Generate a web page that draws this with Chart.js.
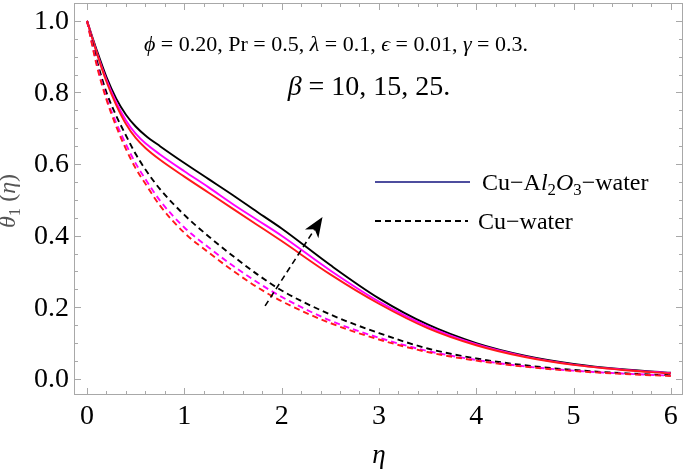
<!DOCTYPE html>
<html lang="en">
<head>
    <meta charset="UTF-8">
    <title>theta1 vs eta</title>
    <script src="https://cdn.jsdelivr.net/npm/chart.js"></script>
    <style>
        html, body { margin: 0; padding: 0; background: #fff; }
        canvas { display: block; }
    </style>
</head>
<body>
    <canvas id="chart" width="685" height="469"></canvas>

    <script>
        const eta = [0, 0.1, 0.2, 0.3, 0.4, 0.5, 0.6, 0.75, 1, 1.25, 1.5, 1.75, 2, 2.5, 3, 3.5, 4, 4.5, 5, 5.5, 6];

        // Cu-Al2O3-water (solid), beta = 10, 15, 25
        const hybridBeta10 = [1.0, 0.910, 0.830, 0.765, 0.712, 0.673, 0.645, 0.612, 0.565, 0.520, 0.475, 0.430, 0.385, 0.292, 0.210, 0.142, 0.094, 0.061, 0.039, 0.025, 0.015];
        const hybridBeta15 = [1.0, 0.912, 0.835, 0.772, 0.722, 0.685, 0.658, 0.627, 0.580, 0.535, 0.488, 0.444, 0.400, 0.303, 0.216, 0.147, 0.097, 0.063, 0.040, 0.026, 0.016];
        const hybridBeta25 = [1.0, 0.918, 0.843, 0.783, 0.738, 0.705, 0.680, 0.650, 0.603, 0.558, 0.513, 0.466, 0.420, 0.318, 0.225, 0.152, 0.100, 0.065, 0.042, 0.027, 0.017];

        // Cu-water (dashed), beta = 10, 15, 25
        const cuBeta10 = [1.0, 0.875, 0.780, 0.705, 0.642, 0.588, 0.545, 0.484, 0.408, 0.353, 0.302, 0.256, 0.217, 0.156, 0.110, 0.075, 0.051, 0.034, 0.022, 0.014, 0.008];
        const cuBeta15 = [1.0, 0.880, 0.785, 0.715, 0.655, 0.602, 0.558, 0.498, 0.423, 0.367, 0.316, 0.270, 0.229, 0.163, 0.115, 0.078, 0.053, 0.035, 0.023, 0.015, 0.009];
        const cuBeta25 = [1.0, 0.890, 0.800, 0.735, 0.680, 0.628, 0.585, 0.530, 0.458, 0.398, 0.343, 0.292, 0.247, 0.180, 0.128, 0.085, 0.057, 0.038, 0.025, 0.016, 0.010];

        // tick labels
        const xTicks = [0, 1, 2, 3, 4, 5, 6];
        const yTicks = [0, 0.2, 0.4, 0.6, 0.8, 1.0];

        // arrow showing increasing beta (data coords: tail -> tip)
        const arrowEta = [1.83, 2.42];
        const arrowTheta = [0.204, 0.452];

        const serif = "'Liberation Serif', 'DejaVu Serif', serif";

        function pts(ys) {
            return eta.map((x, i) => ({ x: x, y: ys[i] }));
        }

        function curve(ys, color, dashed) {
            return {
                data: pts(ys),
                borderColor: color,
                borderWidth: 1.9,
                borderDash: dashed ? [6, 4] : [],
                pointRadius: 0,
                fill: false,
                cubicInterpolationMode: 'monotone'
            };
        }

        // draw a row of text pieces, each piece: [text, italic, sub]
        function drawRuns(ctx, runs, x, y, size, color, align) {
            ctx.save();
            ctx.fillStyle = color;
            ctx.textBaseline = 'alphabetic';
            ctx.textAlign = 'left';
            const fontFor = r => (r[1] ? 'italic ' : '') + (r[2] ? size * 0.7 : size) + 'px ' + serif;
            let total = 0;
            runs.forEach(r => { ctx.font = fontFor(r); total += ctx.measureText(r[0]).width; });
            let cx = align === 'center' ? x - total / 2 : x;
            runs.forEach(r => {
                ctx.font = fontFor(r);
                ctx.fillText(r[0], cx, r[2] ? y + size * 0.22 : y);
                cx += ctx.measureText(r[0]).width;
            });
            ctx.restore();
        }

        const decorPlugin = {
            id: 'decor',
            afterDatasetsDraw(chart) {
                const ctx = chart.ctx;
                const a = chart.chartArea;
                const xs = chart.scales.x, ys = chart.scales.y;

                // frame + inward ticks, mathematica style
                ctx.save();
                ctx.strokeStyle = '#a8a8a8';
                ctx.lineWidth = 1;
                ctx.strokeRect(a.left + 0.5, a.top + 0.5, a.right - a.left - 1, a.bottom - a.top - 1);
                ctx.beginPath();
                for (let i = 0; i <= 30; i++) {
                    const v = i * 0.2;
                    const px = Math.round(xs.getPixelForValue(v)) + 0.5;
                    const len = i % 5 === 0 ? 7 : 4;
                    ctx.moveTo(px, a.bottom); ctx.lineTo(px, a.bottom - len);
                    ctx.moveTo(px, a.top); ctx.lineTo(px, a.top + len);
                }
                for (let i = 0; i <= 21; i++) {
                    const v = i * 0.05;
                    const py = Math.round(ys.getPixelForValue(v)) + 0.5;
                    if (py < a.top || py > a.bottom) continue;
                    const len = i % 4 === 0 ? 7 : 4;
                    ctx.moveTo(a.left, py); ctx.lineTo(a.left + len, py);
                    ctx.moveTo(a.right, py); ctx.lineTo(a.right - len, py);
                }
                ctx.stroke();
                ctx.restore();

                // tick labels, drawn here so the serif face is certain
                ctx.save();
                ctx.fillStyle = '#000';
                ctx.font = '28px ' + serif;
                ctx.textAlign = 'right';
                ctx.textBaseline = 'middle';
                yTicks.forEach(v => ctx.fillText(v.toFixed(1), a.left - 5, ys.getPixelForValue(v) + 1));
                ctx.textAlign = 'center';
                ctx.textBaseline = 'top';
                xTicks.forEach(v => ctx.fillText(String(v), xs.getPixelForValue(v), a.bottom + 8));
                ctx.restore();

                // arrow
                const x0 = xs.getPixelForValue(arrowEta[0]), y0 = ys.getPixelForValue(arrowTheta[0]);
                const x1 = xs.getPixelForValue(arrowEta[1]), y1 = ys.getPixelForValue(arrowTheta[1]);
                const ang = Math.atan2(y1 - y0, x1 - x0);
                const headLen = 20, headW = 8;
                const bx = x1 - Math.cos(ang) * headLen * 0.72, by = y1 - Math.sin(ang) * headLen * 0.72;
                ctx.save();
                ctx.strokeStyle = '#000';
                ctx.lineWidth = 1.6;
                ctx.setLineDash([6, 4]);
                ctx.beginPath();
                ctx.moveTo(x0, y0);
                ctx.lineTo(bx, by);
                ctx.stroke();
                ctx.setLineDash([]);
                ctx.fillStyle = '#000';
                ctx.beginPath();
                const hx = x1 - Math.cos(ang) * headLen, hy = y1 - Math.sin(ang) * headLen;
                ctx.moveTo(x1, y1);
                ctx.lineTo(hx + Math.sin(ang) * headW, hy - Math.cos(ang) * headW);
                ctx.lineTo(bx, by);
                ctx.lineTo(hx - Math.sin(ang) * headW, hy + Math.cos(ang) * headW);
                ctx.closePath();
                ctx.fill();
                ctx.restore();

                // parameter text
                drawRuns(ctx, [
                    ['\u03D5', true], [' = 0.20, Pr = 0.5, '], ['\u03BB', true], [' = 0.1, '],
                    ['\u03F5', true], [' = 0.01, '], ['\u03B3', true], [' = 0.3.']
                ], 336, 51, 22, '#000', 'center');
                drawRuns(ctx, [['\u03B2', true], [' = 10, 15, 25.']], 369, 95, 28, '#000', 'center');

                // legend
                ctx.save();
                ctx.lineWidth = 1.9;
                ctx.strokeStyle = '#4d4d9e';
                ctx.beginPath();
                ctx.moveTo(375, 182); ctx.lineTo(470, 182);
                ctx.stroke();
                ctx.strokeStyle = '#000';
                ctx.setLineDash([6, 4]);
                ctx.beginPath();
                ctx.moveTo(375, 221); ctx.lineTo(468, 221);
                ctx.stroke();
                ctx.restore();
                drawRuns(ctx, [['Cu\u2212A'], ['l', true], ['2', false, true], ['O', true], ['3', false, true], ['\u2212water']],
                    482, 190, 24, '#000', 'left');
                drawRuns(ctx, [['Cu\u2212water']], 478, 229, 24, '#000', 'left');

                // axis titles
                drawRuns(ctx, [['\u03B7', true]], 379, 463, 27, '#000', 'center');
                ctx.save();
                ctx.translate(15, 201);
                ctx.rotate(-Math.PI / 2);
                drawRuns(ctx, [['\u03B8', true], ['1', false, true], [' ('], ['\u03B7', true], [')']], 0, 0, 24, '#555', 'center');
                ctx.restore();
            }
        };

        new Chart(document.getElementById('chart').getContext('2d'), {
            type: 'line',
            data: {
                datasets: [
                    curve(cuBeta10, '#ff1a1a', true),
                    curve(cuBeta15, '#ff00ff', true),
                    curve(cuBeta25, '#000000', true),
                    curve(hybridBeta10, '#ff1a1a', false),
                    curve(hybridBeta15, '#ff00ff', false),
                    curve(hybridBeta25, '#000000', false)
                ]
            },
            options: {
                responsive: false,
                animation: false,
                layout: { padding: { top: 3, right: 2, left: 0, bottom: 0 } },
                plugins: { legend: { display: false }, tooltip: { enabled: false } },
                scales: {
                    x: {
                        type: 'linear',
                        min: -0.134,
                        max: 6.125,
                        grid: { display: false },
                        border: { display: false },
                        afterBuildTicks: s => { s.ticks = xTicks.map(v => ({ value: v })); },
                        afterFit: s => { s.height = 74; },
                        ticks: { display: false }
                    },
                    y: {
                        type: 'linear',
                        min: -0.045,
                        max: 1.05,
                        grid: { display: false },
                        border: { display: false },
                        afterBuildTicks: s => { s.ticks = yTicks.map(v => ({ value: v })); },
                        afterFit: s => { s.width = 74; },
                        ticks: { display: false }
                    }
                }
            },
            plugins: [decorPlugin]
        });
    </script>
</body>
</html>
